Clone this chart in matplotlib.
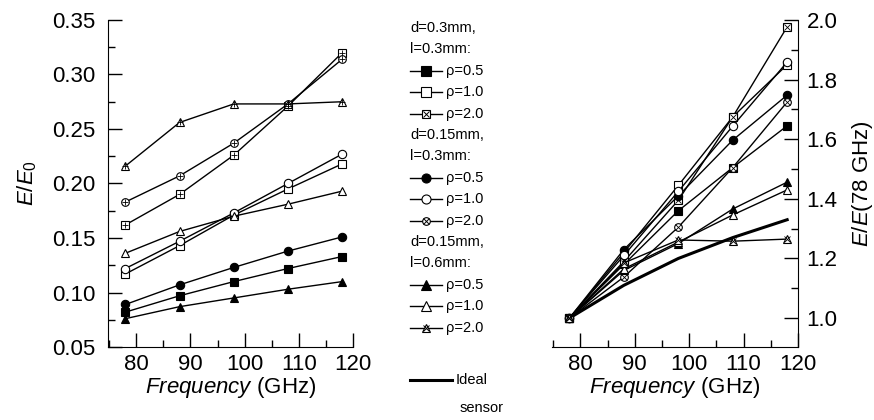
import matplotlib
matplotlib.use("Agg")
import matplotlib.pyplot as plt
from matplotlib.lines import Line2D
from matplotlib.ticker import MultipleLocator

plt.rcParams['font.family'] = ['Liberation Sans', 'DejaVu Sans']
plt.rcParams['mathtext.fontset'] = 'custom'
plt.rcParams['mathtext.rm'] = 'Liberation Sans'
plt.rcParams['mathtext.it'] = 'Liberation Sans:italic'

# frecuencias (GHz)
freq = [78, 88, 98, 108, 118]

# panel izquierdo: E/E0
e0_d03_r05 = [0.082, 0.097, 0.110, 0.122, 0.133]
e0_d03_r10 = [0.117, 0.143, 0.171, 0.195, 0.218]
e0_d03_r20 = [0.162, 0.190, 0.226, 0.271, 0.320]
e0_d015_r05 = [0.089, 0.107, 0.123, 0.138, 0.151]
e0_d015_r10 = [0.122, 0.147, 0.173, 0.200, 0.227]
e0_d015_r20 = [0.183, 0.207, 0.237, 0.273, 0.314]
e0_l06_r05 = [0.076, 0.087, 0.095, 0.103, 0.110]
e0_l06_r10 = [0.136, 0.156, 0.170, 0.181, 0.193]
e0_l06_r20 = [0.216, 0.256, 0.273, 0.273, 0.275]

# panel derecho: E/E(78 GHz)
rel_d03_r05 = [1.0, 1.18, 1.36, 1.505, 1.645]
rel_d03_r10 = [1.0, 1.22, 1.445, 1.675, 1.85]
rel_d03_r20 = [1.0, 1.19, 1.395, 1.675, 1.977]
rel_d015_r05 = [1.0, 1.23, 1.41, 1.597, 1.748]
rel_d015_r10 = [1.0, 1.21, 1.425, 1.644, 1.859]
rel_d015_r20 = [1.0, 1.138, 1.305, 1.505, 1.725]
rel_l06_r05 = [1.0, 1.16, 1.25, 1.366, 1.456]
rel_l06_r10 = [1.0, 1.165, 1.255, 1.346, 1.43]
rel_l06_r20 = [1.0, 1.185, 1.262, 1.258, 1.265]
ideal = [1.0, 1.11, 1.20, 1.27, 1.33]

# (marcador, relleno, cruz)
estilos = [('s', True, False), ('s', False, False), ('s', False, True),
           ('o', True, False), ('o', False, False), ('o', False, True),
           ('^', True, False), ('^', False, False), ('^', False, True)]

izq = [e0_d03_r05, e0_d03_r10, e0_d03_r20, e0_d015_r05, e0_d015_r10,
       e0_d015_r20, e0_l06_r05, e0_l06_r10, e0_l06_r20]
der = [rel_d03_r05, rel_d03_r10, rel_d03_r20, rel_d015_r05, rel_d015_r10,
       rel_d015_r20, rel_l06_r05, rel_l06_r10, rel_l06_r20]

leyenda = ["d=0.3mm,", "l=0.3mm:", "ρ=0.5", "ρ=1.0", "ρ=2.0",
           "d=0.15mm,", "l=0.3mm:", "ρ=0.5", "ρ=1.0", "ρ=2.0",
           "d=0.15mm,", "l=0.6mm:", "ρ=0.5", "ρ=1.0", "ρ=2.0"]


def dibujar(ax, x, y, marker, relleno, cruz, tipo_cruz):
    ms = 5.5 if cruz else 6
    ax.plot(x, y, color='k', lw=1.0, marker=marker, ms=ms,
            mfc='k' if relleno else 'white', mec='k', mew=0.8, zorder=2)
    if cruz:
        ax.plot(x, y, ls='none', marker=tipo_cruz, ms=ms * 0.9,
                mec='k', mew=0.6, zorder=3)


def estilo_ejes(ax, lado):
    ax.set_xlim(74.8, 120)
    ax.xaxis.set_major_locator(MultipleLocator(10))
    ax.xaxis.set_minor_locator(MultipleLocator(5))
    ax.tick_params(which='both', direction='in', labelsize=16, width=1)
    ax.tick_params(which='major', length=10, pad=9)
    ax.tick_params(which='minor', length=5)
    ax.tick_params(axis='x', which='major', pad=5)
    ax.spines['top'].set_visible(False)
    if lado == 'izq':
        ax.spines['right'].set_visible(False)
    else:
        ax.spines['left'].set_visible(False)
        ax.yaxis.tick_right()
        ax.yaxis.set_label_position('right')
    ax.set_xlabel(r'$\mathit{Frequency}$ (GHz)', fontsize=16)
    ax.xaxis.set_label_coords(0.5, -0.085)


fig = plt.figure(figsize=(8.74, 4.2), dpi=100)
ax1 = fig.add_axes([0.1236, 0.1738, 0.2803, 0.7786])
ax2 = fig.add_axes([0.6316, 0.1738, 0.2815, 0.7786])

for datos, (m, r, c) in zip(izq, estilos):
    dibujar(ax1, freq, datos, m, r, c, '+')
for datos, (m, r, c) in zip(der, estilos):
    dibujar(ax2, freq, datos, m, r, c, 'x')
ax2.plot(freq, ideal, color='k', lw=2.2, zorder=1)

estilo_ejes(ax1, 'izq')
ax1.set_ylim(0.05, 0.35)
ax1.yaxis.set_major_locator(MultipleLocator(0.05))
ax1.yaxis.set_minor_locator(MultipleLocator(0.025))
ax1.yaxis.set_major_formatter(matplotlib.ticker.FormatStrFormatter('%.2f'))
ax1.set_ylabel(r'$E/E_0$', fontsize=16)
ax1.yaxis.set_label_coords(-0.28, 0.5)

estilo_ejes(ax2, 'der')
ax2.set_ylim(0.903, 2.0)
ax2.yaxis.set_major_locator(MultipleLocator(0.2))
ax2.yaxis.set_minor_locator(MultipleLocator(0.1))
ax2.yaxis.set_major_formatter(matplotlib.ticker.FormatStrFormatter('%.1f'))
ax2.tick_params(axis='y', which='major', pad=6)
ax2.set_ylabel(r'$\mathit{E/E}$(78 GHz)', fontsize=16, rotation=90)
ax2.yaxis.set_label_coords(1.21, 0.5)

# leyenda dibujada a mano en coordenadas de figura
W, H = 874.0, 420.0
x0, x1, xm, xt = 410, 442, 426, 446
k = 0
for i, texto in enumerate(leyenda):
    yp = 28 + i * 21.4
    fy = 1 - yp / H
    if texto.startswith('ρ'):
        m, r, c = estilos[k]
        k += 1
        fig.add_artist(Line2D([x0 / W, x1 / W], [fy, fy], color='k', lw=1.0,
                              transform=fig.transFigure))
        ms = 5.5 if c else 6.5
        fig.add_artist(Line2D([xm / W], [fy], ls='none', marker=m, ms=ms,
                              mfc='k' if r else 'white', mec='k', mew=0.8,
                              transform=fig.transFigure))
        if c:
            fig.add_artist(Line2D([xm / W], [fy], ls='none', marker='x',
                                  ms=ms * 0.9, mec='k', mew=0.7,
                                  transform=fig.transFigure))
        fig.text(xt / W, fy, texto, fontsize=10.5, va='center', ha='left')
    else:
        fig.text(x0 / W, fy, texto, fontsize=10.5, va='center', ha='left')

fy = 1 - 380 / H
fig.add_artist(Line2D([410 / W, 452 / W], [fy, fy], color='k', lw=2.2,
                      transform=fig.transFigure))
fig.text(456 / W, fy, "Ideal", fontsize=10.5, va='center', ha='left')
fig.text(460 / W, 1 - 408 / H, "sensor", fontsize=10.5, va='center', ha='left')

fig.savefig("out.png", dpi=100)
